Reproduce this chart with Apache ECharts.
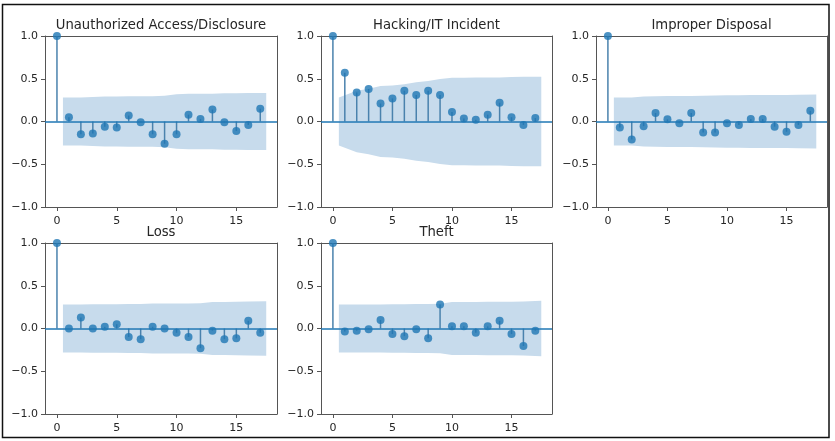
<!DOCTYPE html>
<html>
<head>
<meta charset="utf-8">
<script src="https://cdn.jsdelivr.net/npm/echarts@6/dist/echarts.min.js"></script>
<style>
html,body{margin:0;padding:0;background:#fff;}
#chart{width:835px;height:441px;}
</style>
</head>
<body>
<div id="chart"></div>
<script>
// ---- data ----
const titles = ['Unauthorized Access/Disclosure', 'Hacking/IT Incident', 'Improper Disposal', 'Loss', 'Theft'];
const lags = [0, 1, 2, 3, 4, 5, 6, 7, 8, 9, 10, 11, 12, 13, 14, 15, 16, 17];
const xTickValues = [0, 5, 10, 15];
const yTickValues = [-1.0, -0.5, 0.0, 0.5, 1.0];

const unauthorizedAcf = [1.0, 0.05, -0.15, -0.14, -0.06, -0.07, 0.07, -0.01, -0.15, -0.26, -0.15, 0.08, 0.03, 0.14, -0.01, -0.11, -0.04, 0.15];
const hackingAcf      = [1.0, 0.57, 0.34, 0.38, 0.21, 0.27, 0.36, 0.31, 0.36, 0.31, 0.11, 0.035, 0.02, 0.08, 0.22, 0.05, -0.04, 0.04];
const improperAcf     = [1.0, -0.07, -0.21, -0.055, 0.10, 0.025, -0.02, 0.10, -0.13, -0.13, -0.02, -0.04, 0.03, 0.03, -0.06, -0.12, -0.04, 0.125];
const lossAcf         = [1.0, 0.0, 0.13, 0.0, 0.02, 0.05, -0.10, -0.125, 0.02, 0.0, -0.05, -0.10, -0.23, -0.025, -0.125, -0.115, 0.09, -0.05];
const theftAcf        = [1.0, -0.035, -0.025, -0.01, 0.10, -0.065, -0.09, -0.01, -0.115, 0.28, 0.025, 0.025, -0.05, 0.025, 0.09, -0.065, -0.205, -0.025];

// confidence band half-widths (lags 1..17), drawn at these x positions
const bandX = [0.5, 2, 3, 4, 5, 6, 7, 8, 9, 10, 11, 12, 13, 14, 15, 16, 17.5];
const unauthorizedBand = [0.28, 0.281, 0.287, 0.292, 0.293, 0.294, 0.296, 0.296, 0.302, 0.319, 0.324, 0.326, 0.326, 0.331, 0.331, 0.334, 0.334];
const hackingBand      = [0.28, 0.36, 0.384, 0.414, 0.422, 0.437, 0.459, 0.475, 0.496, 0.511, 0.513, 0.514, 0.515, 0.516, 0.521, 0.522, 0.523];
const improperBand     = [0.28, 0.281, 0.293, 0.294, 0.297, 0.297, 0.297, 0.30, 0.304, 0.308, 0.308, 0.309, 0.309, 0.31, 0.31, 0.314, 0.315];
const lossBand         = [0.28, 0.28, 0.285, 0.285, 0.285, 0.286, 0.288, 0.292, 0.292, 0.292, 0.293, 0.296, 0.31, 0.31, 0.314, 0.317, 0.319];
const theftBand        = [0.28, 0.28, 0.28, 0.28, 0.283, 0.284, 0.287, 0.287, 0.29, 0.311, 0.311, 0.311, 0.312, 0.312, 0.314, 0.315, 0.325];

const acfs = [unauthorizedAcf, hackingAcf, improperAcf, lossAcf, theftAcf];
const bands = [unauthorizedBand, hackingBand, improperBand, lossBand, theftBand];

// ---- layout / style ----
const grids = [
  {left: 45,  top: 36,  width: 232, height: 171},
  {left: 321, top: 36,  width: 231, height: 171},
  {left: 596, top: 36,  width: 231, height: 171},
  {left: 45,  top: 243, width: 232, height: 171},
  {left: 321, top: 243, width: 231, height: 171}
];
const C0 = '#1f77b4';
const BAND = '#c7dbec';
const FONT = 'DejaVu Sans';
const TXT = '#262626';
const SPINE = '#555';

const fmtY = v => (v < 0 ? '\u2212' : '') + Math.abs(v).toFixed(1);

const xAxes = [];
const yAxes = [];
grids.forEach((g, i) => {
  xAxes.push({
    type: 'value', gridIndex: i, min: -1, max: 18.4, position: 'bottom',
    axisLine: {show: true, onZero: false, lineStyle: {color: SPINE, width: 1}},
    splitLine: {show: false},
    axisTick: {show: true, inside: false, length: 4, customValues: xTickValues, lineStyle: {color: SPINE, width: 1}},
    axisLabel: {customValues: xTickValues, margin: 9, fontSize: 11, color: TXT, fontFamily: FONT}
  });
  yAxes.push({
    type: 'value', gridIndex: i, min: -1, max: 1, interval: 0.5, position: 'left',
    axisLine: {show: true, onZero: false, lineStyle: {color: SPINE, width: 1}},
    splitLine: {show: false},
    axisTick: {show: true, inside: false, length: 4, lineStyle: {color: SPINE, width: 1}},
    axisLabel: {formatter: fmtY, margin: 7, fontSize: 11, color: TXT, fontFamily: FONT}
  });
});
grids.forEach((g, i) => {
  xAxes.push({
    type: 'value', gridIndex: i, min: -1, max: 18.4, position: 'top',
    axisLine: {show: true, onZero: false, lineStyle: {color: SPINE, width: 1}},
    splitLine: {show: false}, axisTick: {show: false}, axisLabel: {show: false}
  });
  yAxes.push({
    type: 'value', gridIndex: i, min: -1, max: 1, interval: 0.5, position: 'right',
    axisLine: {show: true, onZero: false, lineStyle: {color: SPINE, width: 1}},
    splitLine: {show: false}, axisTick: {show: false}, axisLabel: {show: false}
  });
});

const option = {
  animation: false,
  backgroundColor: '#fff',
  textStyle: {fontFamily: FONT},
  title: titles.map((t, i) => ({
    text: t,
    left: grids[i].left + grids[i].width / 2,
    top: grids[i].top - 17,
    textAlign: 'center',
    padding: 0,
    textStyle: {fontFamily: FONT, fontSize: 13.2, fontWeight: 'normal', color: TXT}
  })),
  grid: grids.map(g => Object.assign({containLabel: false}, g)),
  xAxis: xAxes,
  yAxis: yAxes,
  series: [],
  graphic: [{
    type: 'rect', silent: true, z: 100,
    shape: {x: 2.5, y: 4.5, width: 826.5, height: 433},
    style: {fill: 'none', stroke: '#111', lineWidth: 1.5}
  }]
};

acfs.forEach((acf, i) => {
  const band = bands[i];
  option.series.push({
    type: 'line', xAxisIndex: i, yAxisIndex: i, silent: true, z: 1,
    data: bandX.map((x, k) => [x, band[k]]),
    showSymbol: false, symbol: 'none',
    lineStyle: {width: 0, color: BAND},
    areaStyle: {color: BAND, opacity: 1, origin: 0}
  });
  option.series.push({
    type: 'line', xAxisIndex: i, yAxisIndex: i, silent: true, z: 1,
    data: bandX.map((x, k) => [x, -band[k]]),
    showSymbol: false, symbol: 'none',
    lineStyle: {width: 0, color: BAND},
    areaStyle: {color: BAND, opacity: 1, origin: 0}
  });
  option.series.push({
    type: 'bar', xAxisIndex: i, yAxisIndex: i, silent: true, z: 3,
    data: lags.map((l, k) => [l, acf[k]]),
    barWidth: 1.5,
    itemStyle: {color: '#4a82ad'}
  });
  option.series.push({
    type: 'scatter', xAxisIndex: i, yAxisIndex: i, silent: true, z: 4,
    data: lags.map((l, k) => [l, acf[k]]),
    symbol: 'circle', symbolSize: 8,
    itemStyle: {color: C0},
    markLine: {
      silent: true, symbol: ['none', 'none'], animation: false,
      label: {show: false},
      lineStyle: {color: C0, width: 1.6, type: 'solid'},
      data: [{yAxis: 0}]
    }
  });
});

const chart = echarts.init(document.getElementById('chart'), null, {renderer: 'canvas'});
chart.setOption(option);
</script>
</body>
</html>
